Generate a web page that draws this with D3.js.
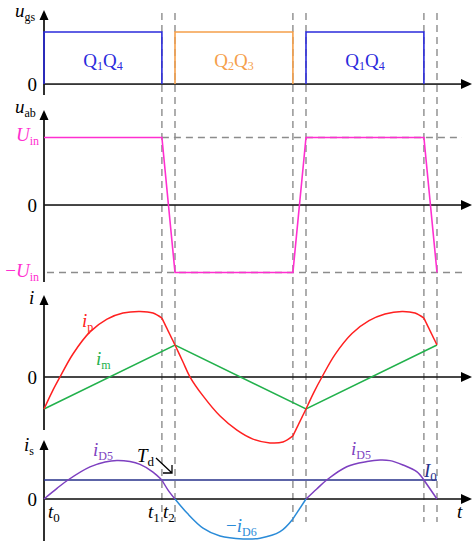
<!DOCTYPE html>
<html>
<head>
<meta charset="utf-8">
<script src="https://cdn.jsdelivr.net/npm/d3@7/dist/d3.min.js"></script>
<style>
  html, body { margin: 0; padding: 0; background: #fff; }
  svg { display: block; font-family: "Liberation Serif", "DejaVu Serif", serif; }
</style>
</head>
<body>
<svg id="chart" width="472" height="542"></svg>
<script>
// ---- waveform data (time in units of the half switching period) ----
const switchTimes = [0.9, 1.0, 1.9, 2.0, 2.9, 3.0];          // t1, t2, t3, t4, t5, t6

// gate signals
const gateStart  = [0.0, 1.0, 2.0];
const gateEnd    = [0.9, 1.9, 2.9];
const gateLabels = [["Q","1","Q","4"], ["Q","2","Q","3"], ["Q","1","Q","4"]];
const gateColors = ["#2b2bdc", "#f5a04b", "#2b2bdc"];

// bridge voltage u_ab (normalised to U_in)
const uabT = [0, 0.9, 1.0, 1.9, 2.0, 2.9, 3.0];
const uabV = [1, 1, -1, -1, 1, 1, -1];

// magnetising current i_m
const imT = [0, 1.0, 2.0, 3.0];
const imV = [-1, 1, -1, 1];

// primary current i_p
const ipT = [0, 0.061, 0.122, 0.221, 0.351, 0.481, 0.603, 0.733, 0.832, 0.9,
             1.0, 1.061, 1.115, 1.214, 1.344, 1.473, 1.595, 1.725, 1.824, 1.9,
             2.0, 2.061, 2.122, 2.221, 2.351, 2.481, 2.603, 2.733, 2.832, 2.9, 3.0];
const ipV = [-1.0, -0.47, 0, 0.72, 1.41, 1.81, 2.0, 2.05, 2.0, 1.84,
             1.0, 0.47, 0, -0.59, -1.22, -1.66, -1.94, -2.06, -2.03, -1.84,
             -1.0, -0.47, 0, 0.70, 1.36, 1.76, 1.97, 2.05, 2.0, 1.84, 1.0];

// rectifier diode currents (normalised to I0)
const iD5aT = [0, 0.099, 0.183, 0.351, 0.466, 0.557, 0.656, 0.733, 0.832, 0.9, 0.947, 1.0];
const iD5aV = [0, 0.56, 1.0, 1.69, 1.95, 2.03, 1.97, 1.82, 1.42, 1.0, 0.47, 0];
const iD6T  = [1.0, 1.092, 1.214, 1.344, 1.519, 1.649, 1.802, 1.9, 2.0];
const iD6V  = [0, -0.74, -1.53, -1.95, -2.1, -2.06, -1.72, -1.05, 0];
const iD5bT = [2.0, 2.082, 2.158, 2.311, 2.466, 2.565, 2.641, 2.74, 2.845, 2.9, 3.0];
const iD5bV = [0, 0.53, 1.0, 1.70, 1.97, 2.05, 2.02, 1.79, 1.44, 1.0, 0];
const I0 = 1;

const tLabels = [["t","0",0], ["t","1",0.9], ["t","2",1.0]];

// ---- layout ----
const svg = d3.select("#chart");
const x = d3.scaleLinear().domain([0, 428 / 131]).range([44, 472]);
const xArrowEnd = 472;

const panels = {
  ugs: d3.scaleLinear().domain([-0.21, 1.423]).range([95, 10]),
  uab: d3.scaleLinear().domain([-1.14, 1.407]).range([282, 110]),
  i:   d3.scaleLinear().domain([-1.656, 2.5625]).range([430, 295]),
  is:  d3.scaleLinear().domain([-2.21, 3.105]).range([541, 440])
};

const gray = "#8c8c8c";
const axisColor = "#1a1a1a";

// vertical dashed time markers
svg.append("g").selectAll("line").data(switchTimes).join("line")
  .attr("x1", d => x(d)).attr("x2", d => x(d))
  .attr("y1", 13).attr("y2", 522)
  .attr("stroke", gray).attr("stroke-width", 1.4)
  .attr("stroke-dasharray", "7,5");

// horizontal dashed levels at +U_in and -U_in
const yU = panels.uab;
svg.append("line").attr("x1", x(0.9)).attr("x2", 462)
  .attr("y1", yU(1)).attr("y2", yU(1))
  .attr("stroke", gray).attr("stroke-width", 1.4).attr("stroke-dasharray", "7,5");
svg.append("line").attr("x1", x(0) + 3).attr("x2", 462)
  .attr("y1", yU(-1)).attr("y2", yU(-1))
  .attr("stroke", gray).attr("stroke-width", 1.4).attr("stroke-dasharray", "7,5");

// axes (no ticks) with arrowheads
const axesLayer = svg.append("g").attr("class", "axes");
Object.keys(panels).forEach(key => {
  const y = panels[key];
  const x0 = x(0), y0 = y(0);
  const yBottom = y.range()[0], yTop = y.range()[1];
  axesLayer.append("rect")
    .attr("x", x0).attr("y", y0 - 0.8)
    .attr("width", xArrowEnd - 8 - x0).attr("height", 1.6)
    .attr("fill", axisColor);
  axesLayer.append("rect")
    .attr("x", x0 - 0.9).attr("y", yTop + 6)
    .attr("width", 1.8).attr("height", yBottom - yTop - 6)
    .attr("fill", axisColor);
  axesLayer.append("path")
    .attr("d", `M${x0},${yTop} L${x0 - 4.5},${yTop + 10} L${x0 + 4.5},${yTop + 10} Z`)
    .attr("fill", "#000");
  axesLayer.append("path")
    .attr("d", `M${xArrowEnd},${y0} L${xArrowEnd - 11},${y0 - 5} L${xArrowEnd - 11},${y0 + 5} Z`)
    .attr("fill", "#000");
});

// gate pulses
const yG = panels.ugs;
gateStart.forEach((s, k) => {
  const e = gateEnd[k];
  svg.append("path")
    .attr("d", d3.line()([[x(s), yG(0)], [x(s), yG(1)], [x(e), yG(1)], [x(e), yG(0)]]))
    .attr("fill", "none").attr("stroke", gateColors[k]).attr("stroke-width", 1.6);
  const lab = gateLabels[k];
  const t = svg.append("text").attr("x", x((s + e) / 2)).attr("y", 67)
    .attr("text-anchor", "middle").attr("fill", gateColors[k]).attr("font-size", 19);
  t.append("tspan").text(lab[0]);
  t.append("tspan").text(lab[1]).attr("font-size", 12).attr("dy", 3);
  t.append("tspan").text(lab[2]).attr("dy", -3);
  t.append("tspan").text(lab[3]).attr("font-size", 12).attr("dy", 3);
});

// u_ab
svg.append("path")
  .attr("d", d3.line().x((d, i) => x(uabT[i])).y(d => yU(d))(uabV))
  .attr("fill", "none").attr("stroke", "#ff2fd0").attr("stroke-width", 1.6);

// currents: smooth pieces joined at the switching instants
function pieces(T, V) {
  const pts = T.map((t, i) => [t, V[i]]);
  const cuts = [0, ...switchTimes];
  const out = [];
  for (let k = 0; k < cuts.length - 1; k++) {
    const seg = pts.filter(p => p[0] >= cuts[k] - 1e-9 && p[0] <= cuts[k + 1] + 1e-9);
    if (seg.length > 1) out.push(seg);
  }
  return out;
}
function drawCurve(y, T, V, color) {
  const line = d3.line().x(d => x(d[0])).y(d => y(d[1])).curve(d3.curveCatmullRom.alpha(0.5));
  pieces(T, V).forEach(seg => {
    svg.append("path").attr("d", line(seg))
      .attr("fill", "none").attr("stroke", color).attr("stroke-width", 1.5);
  });
}
const yI = panels.i;
svg.append("path")
  .attr("d", d3.line().x((d, i) => x(imT[i])).y(d => yI(d))(imV))
  .attr("fill", "none").attr("stroke", "#22b14c").attr("stroke-width", 1.5);
drawCurve(yI, ipT, ipV, "#ff2020");

const yS = panels.is;
svg.append("line").attr("x1", x(0)).attr("x2", x(3.0))
  .attr("y1", yS(I0)).attr("y2", yS(I0))
  .attr("stroke", "#26318a").attr("stroke-width", 1.4);
drawCurve(yS, iD5aT, iD5aV, "#7d3fc0");
drawCurve(yS, iD6T, iD6V, "#2a8bd8");
drawCurve(yS, iD5bT, iD5bV, "#7d3fc0");

// ---- text ----
function label(xp, yp, parts, opts = {}) {
  const t = svg.append("text").attr("x", xp).attr("y", yp)
    .attr("fill", opts.color || "#000").attr("font-size", opts.size || 19)
    .attr("text-anchor", opts.anchor || "start");
  let shifted = false;
  parts.forEach(p => {
    const ts = t.append("tspan").text(p.s);
    if (p.i) ts.attr("font-style", "italic");
    if (p.sub && !shifted) { ts.attr("font-size", opts.subSize || 12).attr("dy", 4); shifted = true; }
    else if (!p.sub && shifted) { ts.attr("dy", -4); shifted = false; }
  });
  return t;
}

label(15, 17, [{s: "u", i: true}, {s: "gs", sub: true}]);
label(15, 113, [{s: "u", i: true}, {s: "ab", sub: true}]);
label(29, 304, [{s: "i", i: true}]);
label(24, 451, [{s: "i", i: true}, {s: "s", sub: true}]);

label(37, yG(0) + 7, [{s: "0"}], {anchor: "end"});
label(37, yU(0) + 7, [{s: "0"}], {anchor: "end"});
label(37, yI(0) + 7, [{s: "0"}], {anchor: "end"});
label(37, yS(0) + 7, [{s: "0"}], {anchor: "end"});

label(39, yU(1) + 4, [{s: "U", i: true}, {s: "in", sub: true}], {anchor: "end", color: "#ff2fd0"});
label(39, yU(-1) + 4, [{s: "\u2212"}, {s: "U", i: true}, {s: "in", sub: true}], {anchor: "end", color: "#ff2fd0"});

label(82, 327, [{s: "i", i: true}, {s: "p", sub: true}], {color: "#ff2020"});
label(96, 365, [{s: "i", i: true}, {s: "m", sub: true}], {color: "#22b14c"});

label(93, 456, [{s: "i", i: true}, {s: "D5", sub: true}], {color: "#7d3fc0"});
label(351, 455, [{s: "i", i: true}, {s: "D5", sub: true}], {color: "#7d3fc0"});
label(226, 532, [{s: "\u2212"}, {s: "i", i: true}, {s: "D6", sub: true}], {color: "#2a8bd8"});
label(424, 477, [{s: "I", i: true}, {s: "0", sub: true}], {color: "#26318a", subSize: 13});

label(137, 462, [{s: "T", i: true}, {s: "d", sub: true}], {subSize: 13});
// T_d pointer arrow
const tip = [x(1.0) - 3, yS(I0) - 7];
svg.append("path")
  .attr("d", `M${tip[0] - 16},${tip[1] - 15} L${tip[0]},${tip[1]} M${tip[0] - 9},${tip[1]} L${tip[0]},${tip[1]} L${tip[0]},${tip[1] - 8}`)
  .attr("fill", "none").attr("stroke", "#000").attr("stroke-width", 1.3);

tLabels.forEach(([a, b, t], k) => {
  const xp = k === 0 ? x(t) + 4 : x(t) - 14 + (k === 2 ? 2 : 0);
  label(xp, 518, [{s: a, i: true}, {s: b, sub: true}], {size: 19, subSize: 13});
});
label(457, 518, [{s: "t", i: true}]);
</script>
</body>
</html>
